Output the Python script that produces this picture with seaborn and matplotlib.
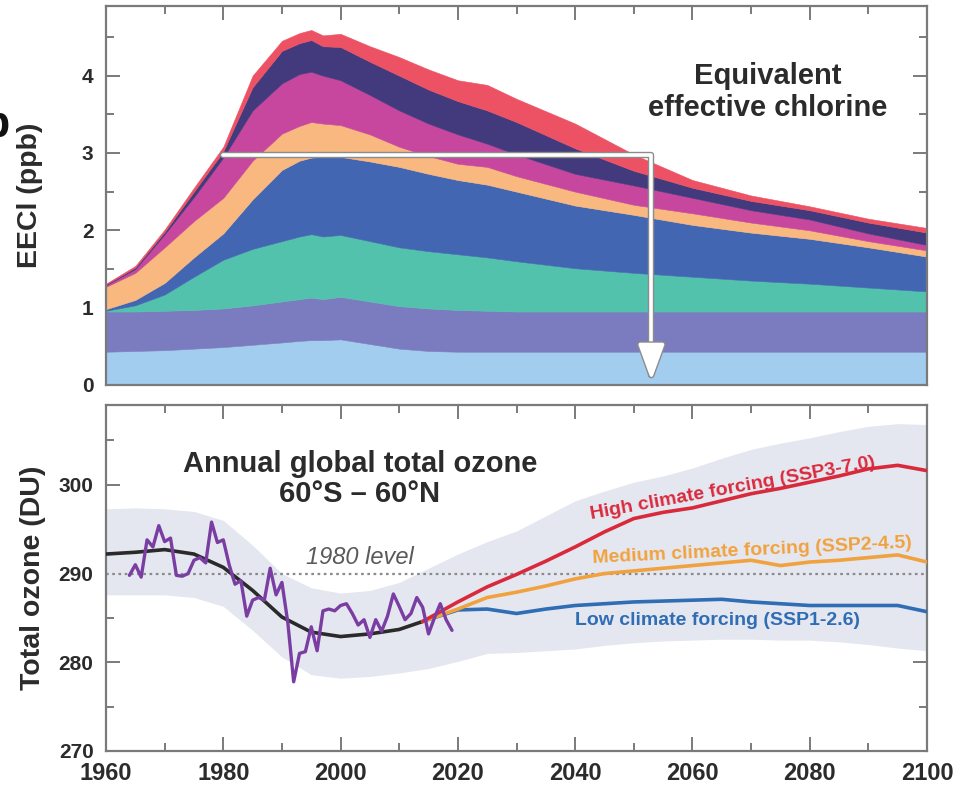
import numpy as np
import matplotlib
matplotlib.use("Agg")
import matplotlib.pyplot as plt
import matplotlib.patheffects as pe
from matplotlib.ticker import MultipleLocator
import seaborn as sns

# ---------------- Equivalent effective chlorine (stacked contributions) ----------------
eecl_years = [1960, 1965, 1970, 1975, 1980, 1985, 1990, 1993, 1995, 1997, 2000, 2005,
              2010, 2015, 2020, 2025, 2030, 2040, 2050, 2060, 2070, 2080, 2090, 2100]
# cumulative upper edge of each stacked layer (ppb), bottom layer first
layer1_top = [.43, .44, .45, .47, .49, .52, .55, .57, .58, .58, .59, .53,
              .47, .44, .43, .43, .43, .43, .43, .43, .43, .43, .43, .43]
layer2_top = [.95, .95, .96, .97, .99, 1.03, 1.08, 1.11, 1.13, 1.11, 1.14, 1.08,
              1.02, .99, .97, .96, .95, .95, .95, .95, .95, .95, .95, .95]
layer3_top = [.96, 1.03, 1.17, 1.40, 1.62, 1.76, 1.86, 1.92, 1.95, 1.92, 1.94, 1.86,
              1.78, 1.73, 1.69, 1.65, 1.60, 1.51, 1.45, 1.40, 1.35, 1.31, 1.26, 1.21]
layer4_top = [.98, 1.10, 1.32, 1.65, 1.96, 2.40, 2.78, 2.90, 2.94, 2.95, 2.95, 2.89,
              2.82, 2.73, 2.65, 2.59, 2.50, 2.32, 2.20, 2.07, 1.97, 1.89, 1.78, 1.66]
layer5_top = [1.27, 1.45, 1.78, 2.12, 2.42, 2.90, 3.25, 3.35, 3.40, 3.38, 3.36, 3.24,
              3.08, 2.96, 2.86, 2.82, 2.70, 2.50, 2.33, 2.22, 2.10, 2.00, 1.86, 1.74]
layer6_top = [1.29, 1.50, 1.95, 2.43, 2.94, 3.55, 3.90, 4.02, 4.05, 4.00, 3.94, 3.75,
              3.55, 3.38, 3.24, 3.12, 2.98, 2.73, 2.58, 2.42, 2.26, 2.14, 1.96, 1.81]
layer7_top = [1.30, 1.52, 1.98, 2.50, 3.02, 3.85, 4.32, 4.42, 4.46, 4.38, 4.37, 4.18,
              4.00, 3.82, 3.67, 3.55, 3.40, 3.06, 2.77, 2.55, 2.38, 2.26, 2.10, 1.97]
layer8_top = [1.31, 1.54, 2.01, 2.55, 3.08, 4.00, 4.45, 4.55, 4.59, 4.52, 4.54, 4.38,
              4.24, 4.08, 3.94, 3.88, 3.70, 3.38, 2.98, 2.65, 2.45, 2.31, 2.15, 2.03]
layer_colors = ["#a3cdef", "#7b7cbf", "#52c2ad", "#4366b2",
                "#f8b87f", "#c7479e", "#433a7d", "#ec5263"]

eecl_1980_level = 2.97
eecl_return_year = 2053

# ---------------- Total ozone 60S-60N ----------------
obs_years = list(range(1964, 2020))
obs_ozone = [289.8, 291.0, 289.6, 293.8, 293.0, 295.4, 293.6, 294.0, 289.8, 289.7,
             290.0, 291.5, 291.8, 291.2, 295.8, 293.5, 293.8, 291.0, 288.8, 289.2,
             285.2, 287.0, 287.3, 287.0, 290.6, 287.6, 289.0, 284.5, 277.8, 281.0,
             281.2, 284.0, 281.3, 285.8, 286.0, 285.8, 286.4, 286.6, 285.5, 284.2,
             284.8, 282.8, 284.8, 283.5, 285.2, 287.7, 286.3, 284.8, 285.5, 287.3,
             286.2, 283.2, 285.0, 286.6, 284.8, 283.6]

hist_years = [1960, 1965, 1970, 1975, 1980, 1985, 1990, 1995, 2000, 2005, 2010, 2014]
hist_ozone = [292.2, 292.4, 292.7, 292.2, 290.7, 288.1, 285.1, 283.4, 282.9, 283.2, 283.7, 284.6]

scen_years = [2014, 2020, 2025, 2030, 2035, 2040, 2045, 2050, 2055, 2060,
              2065, 2070, 2075, 2080, 2085, 2090, 2095, 2100]
ssp370 = [284.6, 286.8, 288.5, 289.9, 291.4, 293.0, 294.7, 296.2, 296.9, 297.4,
          298.2, 299.0, 299.6, 300.3, 301.0, 301.8, 302.2, 301.6]
ssp245 = [284.6, 286.0, 287.3, 287.9, 288.6, 289.4, 290.0, 290.3, 290.6, 290.9,
          291.2, 291.5, 290.9, 291.3, 291.5, 291.8, 292.1, 291.3]
ssp126 = [284.6, 285.9, 286.0, 285.5, 286.0, 286.4, 286.6, 286.8, 286.9, 287.0,
          287.1, 286.8, 286.6, 286.4, 286.4, 286.4, 286.4, 285.7]

band_years = list(range(1960, 2101, 5))
band_upper = [297.3, 297.4, 297.3, 297.0, 296.0, 293.2, 290.0, 288.4, 287.8, 288.1,
              289.0, 290.6, 292.2, 293.6, 294.8, 296.5, 298.2, 299.3, 300.3, 301.0,
              301.9, 303.0, 304.0, 304.7, 305.3, 306.0, 306.6, 306.9, 306.8]
band_lower = [287.6, 287.6, 287.6, 287.3, 286.3, 283.6, 280.6, 278.6, 278.2, 278.4,
              278.8, 279.3, 280.1, 281.0, 281.1, 281.3, 281.5, 281.9, 282.2, 282.4,
              282.5, 282.6, 282.6, 282.5, 282.5, 282.3, 282.0, 281.6, 281.3]
level_1980 = 290.0

# ---------------- styling ----------------
sns.set_style("ticks")
plt.rcParams["font.family"] = ["Liberation Sans", "DejaVu Sans"]
plt.rcParams["font.weight"] = "bold"

TXT = "#2b2b2b"
FRAME = "#7a7a7a"

fig = plt.figure(figsize=(9.67, 7.86), dpi=100)
W, H = 967, 786
ax1 = fig.add_axes([106 / W, 1 - 385 / H, 821 / W, 379 / H])
ax2 = fig.add_axes([106 / W, 1 - 751 / H, 821 / W, 346 / H])


def style_axis(ax):
    for sp in ax.spines.values():
        sp.set_color(FRAME)
        sp.set_linewidth(1.6)
        sp.set_visible(True)
    ax.tick_params(which="both", direction="in", top=True, right=True,
                   color="#6f6f6f", width=1.3)
    ax.tick_params(which="major", length=10)
    ax.tick_params(which="minor", length=6)
    ax.xaxis.set_major_locator(MultipleLocator(20))
    ax.xaxis.set_minor_locator(MultipleLocator(10))
    ax.set_xlim(1960, 2100)


# ---- top panel: stacked EECl ----
tops = [layer1_top, layer2_top, layer3_top, layer4_top,
        layer5_top, layer6_top, layer7_top, layer8_top]
lower = np.zeros(len(eecl_years))
for top, col in zip(tops, layer_colors):
    ax1.fill_between(eecl_years, lower, top, color=col, lw=0.4, edgecolor=col, zorder=2)
    lower = np.asarray(top)

style_axis(ax1)
ax1.set_ylim(0, 4.9)
ax1.yaxis.set_major_locator(MultipleLocator(1))
ax1.yaxis.set_minor_locator(MultipleLocator(0.5))
ax1.tick_params(axis="x", labelbottom=False)
ax1.tick_params(axis="y", labelsize=15, pad=9, labelcolor=TXT)
ax1.set_ylabel("EECl (ppb)", fontsize=20.5, fontweight="bold", color=TXT)
ax1.yaxis.set_label_coords(-0.077, 0.5)

ax1.annotate("", xy=(eecl_return_year, 0.06), xytext=(1980, eecl_1980_level),
             arrowprops=dict(arrowstyle="-|>,head_length=2.2,head_width=0.8",
                             connectionstyle="angle,angleA=0,angleB=90,rad=0",
                             fc="white", ec="white", lw=2.6, shrinkA=0, shrinkB=0,
                             path_effects=[pe.withStroke(linewidth=4.6, foreground="#8c8c8c")]),
             zorder=5)

ax1.text(2072.8, 3.79, "Equivalent\neffective chlorine", ha="center", va="center",
         fontsize=21, fontweight="bold", color=TXT, linespacing=1.2)

# ---- bottom panel: total ozone ----
ax2.fill_between(band_years, band_lower, band_upper, color="#e5e7f0", lw=0, zorder=1)
ax2.axhline(level_1980, color="#8a8a8a", ls=(0, (1.2, 1.6)), lw=1.6, zorder=2)

sns.lineplot(x=hist_years, y=hist_ozone, ax=ax2, color="#2a2a2a", lw=2.6, zorder=4)
sns.lineplot(x=scen_years, y=ssp126, ax=ax2, color="#2f6db5", lw=2.6, zorder=4)
sns.lineplot(x=scen_years, y=ssp245, ax=ax2, color="#f0a23e", lw=2.6, zorder=4)
sns.lineplot(x=scen_years, y=ssp370, ax=ax2, color="#d92a3c", lw=2.6, zorder=4)
sns.lineplot(x=obs_years, y=obs_ozone, ax=ax2, color="#7a3ea3", lw=2.4, zorder=5)

style_axis(ax2)
ax2.set_ylim(270, 309)
ax2.yaxis.set_major_locator(MultipleLocator(10))
ax2.yaxis.set_minor_locator(MultipleLocator(5))
ax2.tick_params(axis="y", labelsize=15, pad=9, labelcolor=TXT)
ax2.tick_params(axis="x", labelsize=17, pad=8, labelcolor=TXT)
for lab in ax2.get_xticklabels() + ax2.get_yticklabels() + ax1.get_yticklabels():
    lab.set_fontweight("bold")
ax2.set_xlabel("")
ax2.set_ylabel("Total ozone (DU)", fontsize=20.5, fontweight="bold", color=TXT)
ax2.yaxis.set_label_coords(-0.073, 0.5)

ax2.text(2003.3, 300.7, "Annual global total ozone\n60°S – 60°N", ha="center", va="center",
         fontsize=21, fontweight="bold", color=TXT, linespacing=1.1)
ax2.text(2003.3, 291.8, "1980 level", ha="center", va="center", fontsize=17,
         fontstyle="italic", fontweight="normal", color="#5a5a5a")
ax2.text(2066.8, 299.6, "High climate forcing (SSP3-7.0)", ha="center", va="center",
         rotation=10.4, rotation_mode="anchor", fontsize=14, fontweight="bold", color="#d92a3c")
ax2.text(2070.2, 292.6, "Medium climate forcing (SSP2-4.5)", ha="center", va="center",
         rotation=2.8, rotation_mode="anchor", fontsize=14, fontweight="bold", color="#f0a23e")
ax2.text(2064.2, 284.7, "Low climate forcing (SSP1-2.6)", ha="center", va="center",
         fontsize=14, fontweight="bold", color="#2f6db5")

# panel letter at the left edge
fig.text(9 / W, 1 - 137 / H, "b", ha="right", va="baseline", fontsize=32,
         fontweight="bold", color="#111111")

fig.savefig("out.png", dpi=100, facecolor="white")
